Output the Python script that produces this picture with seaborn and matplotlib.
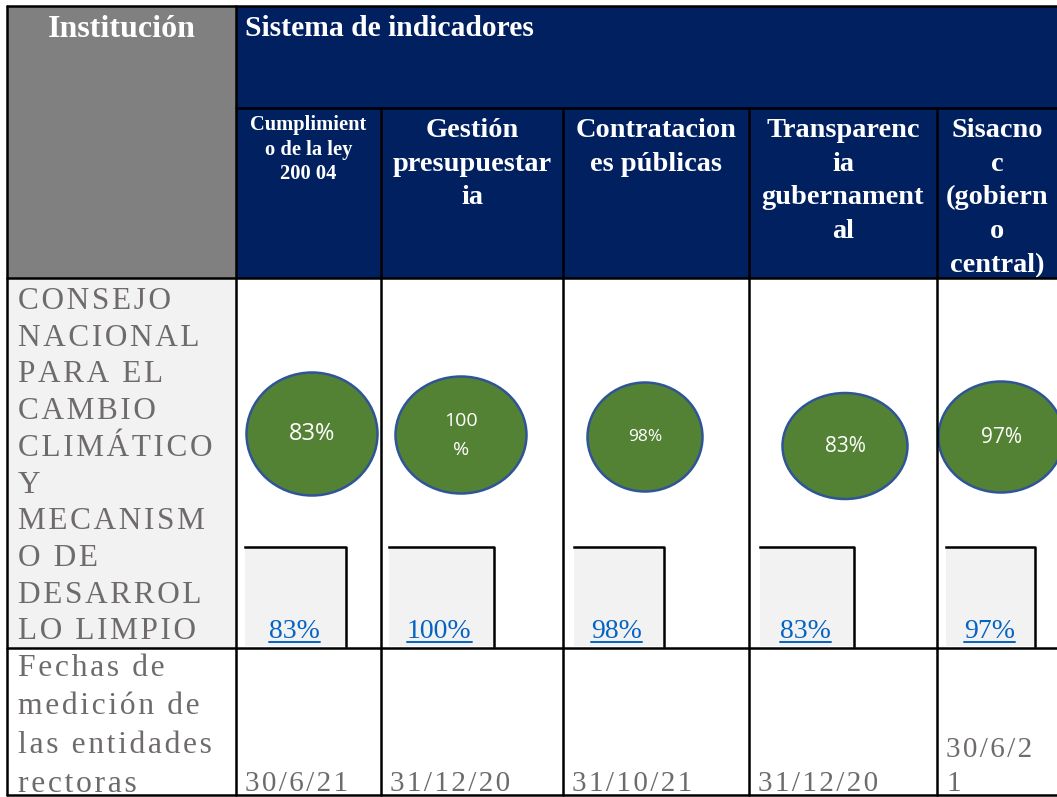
import seaborn as sns
import matplotlib
matplotlib.use("Agg")
import matplotlib.pyplot as plt
from matplotlib.patches import Ellipse, Rectangle

# ---- table content ----
header_left = "Institución"
header_group = "Sistema de indicadores"
indicators = [
    ["Cumplimient", "o de la ley", "200 04"],
    ["Gestión", "presupuestar", "ia"],
    ["Contratacion", "es públicas"],
    ["Transparenc", "ia", "gubernament", "al"],
    ["Sisacno", "c", "(gobiern", "o", "central)"],
]
institution = ["CONSEJO", "NACIONAL", "PARA EL", "CAMBIO", "CLIMÁTICO", "Y",
               "MECANISM", "O DE", "DESARROL", "LO LIMPIO"]
scores = [83, 100, 98, 83, 97]
date_label = ["Fechas de", "medición de", "las entidades", "rectoras"]
dates = ["30/6/21", "31/12/20", "31/10/21", "31/12/20", "30/6/21"]

# ---- layout (pixels) ----
W, H = 1057, 797
col_edges = [7, 236, 381, 563, 749, 937, 1060]
y_top, y_split, y_head, y_data, y_bot = 6, 108, 278, 648, 795
# ellipse centre / size per column
ell_cx = [312, 461, 645, 845, 1001]
ell_cy = [434, 435, 437, 446, 437]
ell_w = [131, 131, 115, 125, 125]
ell_h = [123, 117, 109, 106, 111]
ell_fs = [17, 14, 12.5, 15, 15]
# small grey boxes holding the linked value
box_x0 = [245, 389, 574, 760, 946]
box_x1 = [346, 494, 664, 854, 1035]
link_x = [269, 407, 591, 780, 964]

NAVY = "#002060"
GREY = "#808080"
LIGHT = "#f2f2f2"
GREEN = "#548235"
EDGE = "#2f5597"
LINK = "#0563c1"
TXT = "#6f6b6b"
serif = ["Liberation Serif", "DejaVu Serif"]

sns.set_theme(style="white")
plt.rcParams["font.family"] = ["Liberation Serif", "DejaVu Serif"]

fig = plt.figure(figsize=(W / 100, H / 100), dpi=100)
ax = fig.add_axes([0, 0, 1, 1])
ax.set_xlim(0, W)
ax.set_ylim(H, 0)
ax.axis("off")


def spaced(s, n=1):
    return ("\u200a" * n).join(s)


# header backgrounds
ax.add_patch(Rectangle((col_edges[0], y_top), col_edges[1] - col_edges[0], y_head - y_top, color=GREY, lw=0))
ax.add_patch(Rectangle((col_edges[1], y_top), W - col_edges[1], y_head - y_top, color=NAVY, lw=0))
ax.add_patch(Rectangle((col_edges[0], y_head), col_edges[1] - col_edges[0], y_data - y_head, color=LIGHT, lw=0))

ax.text((col_edges[0] + col_edges[1]) / 2, 37, header_left, ha="center", va="baseline",
        fontsize=23, fontweight="bold", color="white", family=serif)
ax.text(245, 36, header_group, ha="left", va="baseline",
        fontsize=21.3, fontweight="bold", color="white", family=serif)

# indicator headers
for i, lines in enumerate(indicators):
    cx = (col_edges[i + 1] + min(col_edges[i + 2], W)) / 2
    if i == 0:
        fs, base, pitch = 14.8, 130, 24.5
    else:
        fs, base, pitch = 20.4, 137, 33.7
    for k, ln in enumerate(lines):
        ax.text(cx, base + k * pitch, ln, ha="center", va="baseline",
                fontsize=fs, fontweight="bold", color="white", family=serif)

# institution name
for k, ln in enumerate(institution):
    ax.text(18, 309 + k * 36.7, spaced(ln), ha="left", va="baseline",
            fontsize=22.5, color=TXT, family=serif)

# score ellipses and linked values
for i, v in enumerate(scores):
    ax.add_patch(Ellipse((ell_cx[i], ell_cy[i]), ell_w[i], ell_h[i],
                         facecolor=GREEN, edgecolor=EDGE, lw=1.8, zorder=3))
    label = f"{v}%"
    if v >= 100:
        ax.text(ell_cx[i], ell_cy[i] - 14, f"{v}", ha="center", va="center",
                fontsize=ell_fs[i], color="white", family=["Open Sans", "DejaVu Sans"], zorder=4)
        ax.text(ell_cx[i], ell_cy[i] + 15, "%", ha="center", va="center",
                fontsize=ell_fs[i], color="white", family=["Open Sans", "DejaVu Sans"], zorder=4)
    else:
        ax.text(ell_cx[i], ell_cy[i], label, ha="center", va="center",
                fontsize=ell_fs[i], color="white", family=["Open Sans", "DejaVu Sans"], zorder=4)

    ax.add_patch(Rectangle((box_x0[i], 547), box_x1[i] - box_x0[i], 646 - 547,
                           color=LIGHT, lw=0, zorder=2))
    ax.plot([box_x0[i], box_x1[i], box_x1[i]], [547, 547, 646], color="black",
            lw=1.8, solid_capstyle="projecting", zorder=3)
    t = ax.text(link_x[i], 638, label, ha="left", va="baseline",
                fontsize=20, color=LINK, family=serif, zorder=4)
    fig.canvas.draw()
    bb = t.get_window_extent().transformed(ax.transData.inverted())
    ax.plot([bb.x0, bb.x1], [642, 642], color=LINK, lw=1.4, zorder=4)

# dates row
for k, ln in enumerate(date_label):
    ax.text(18, 676 + k * 38.5, spaced(ln), ha="left", va="baseline",
            fontsize=22.8, color=TXT, family=serif)
for i, d in enumerate(dates):
    x = col_edges[i + 1] + 9
    if i == len(dates) - 1:
        ax.text(x, 757, spaced(d[:-1]), ha="left", va="baseline", fontsize=21, color=TXT, family=serif)
        ax.text(x, 791, d[-1], ha="left", va="baseline", fontsize=21, color=TXT, family=serif)
    else:
        ax.text(x, 791, spaced(d), ha="left", va="baseline", fontsize=21, color=TXT, family=serif)

# grid lines
lw = 1.8
for y in [y_top, y_head, y_data, y_bot]:
    ax.plot([col_edges[0], W], [y, y], color="black", lw=lw, zorder=5)
ax.plot([col_edges[1], W], [y_split, y_split], color="black", lw=lw, zorder=5)
ax.plot([col_edges[0]] * 2, [y_top, y_bot], color="black", lw=lw, zorder=5)
ax.plot([col_edges[1]] * 2, [y_top, y_bot], color="black", lw=lw, zorder=5)
for x in col_edges[2:-1]:
    ax.plot([x, x], [y_split, y_bot], color="black", lw=lw, zorder=5)

fig.savefig("out.png", dpi=100)
